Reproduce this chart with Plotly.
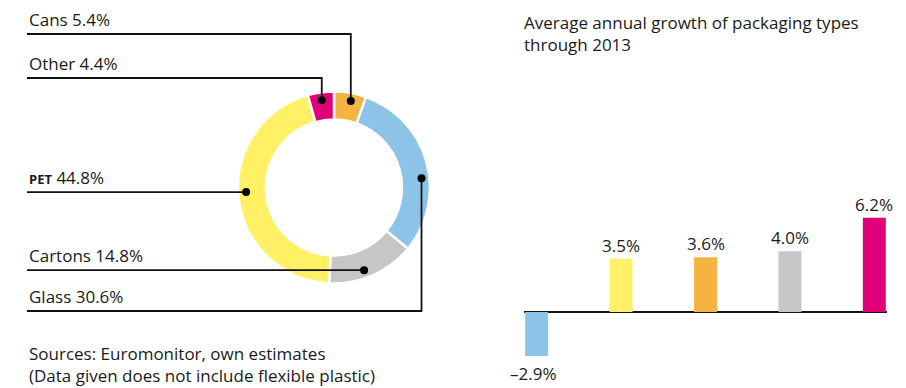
import math
import plotly.graph_objects as go

# ---------------- data ----------------
share_labels = ["Cans", "Glass", "Cartons", "PET", "Other"]
share_values = [5.4, 30.6, 14.8, 44.8, 4.4]
share_colors = ["#F5B342", "#8CC3E6", "#C6C6C6", "#FFF066", "#E2007A"]

growth_cats = ["Glass", "PET", "Cans", "Cartons", "Other"]
growth_values = [-2.9, 3.5, 3.6, 4.0, 6.2]
growth_colors = ["#8CC3E6", "#FFF066", "#F5B342", "#C6C6C6", "#E2007A"]

title_text = "Average annual growth of packaging types<br>through 2013"
source_text = "Sources: Euromonitor, own estimates<br>(Data given does not include flexible plastic)"

# ---------------- layout spec (pixels) ----------------
W, H = 906, 388
FONT = "Open Sans"
FS = 17
TXT = "#1a1a1a"
cx, cy, R, R_in = 334, 187.5, 96, 68
label_x = 27
# leader spec: label, anchor angle (deg clockwise from top), label line y, style
leaders = [
    ("Cans", 11, 34, "v"),
    ("Other", -8, 78, "v"),
    ("PET", 267, None, "h"),
    ("Cartons", 160, None, "h"),
    ("Glass", 84, 311, "v"),
]
dot_r = 88


def px(x):
    return x / W


def py(y):
    return 1 - y / H


fig = go.Figure()

fig.add_trace(go.Pie(
    labels=share_labels, values=share_values, sort=False, direction="clockwise",
    rotation=0, hole=R_in / R, textinfo="none", hoverinfo="label+value",
    marker=dict(colors=share_colors, line=dict(color="white", width=2.5)),
    domain=dict(x=[px(cx - R), px(cx + R)], y=[py(cy + R), py(cy - R)]),
    showlegend=False,
))

val_of = dict(zip(share_labels, share_values))
annotations = []
shapes = []
for name, ang, ly, style in leaders:
    a = math.radians(ang)
    dx = cx + dot_r * math.sin(a)
    dy = cy - dot_r * math.cos(a)
    if style == "v":
        pts = [(label_x, ly), (dx, ly), (dx, dy)]
        line_y = ly
    else:
        pts = [(label_x, dy), (dx, dy)]
        line_y = dy
    path = "M " + " L ".join(f"{px(x):.5f},{py(y):.5f}" for x, y in pts)
    shapes.append(dict(type="path", path=path, xref="paper", yref="paper", layer="above",
                       line=dict(color="#111", width=1.8)))
    rr = 4
    shapes.append(dict(type="circle", xref="paper", yref="paper", layer="above",
                       x0=px(dx - rr), x1=px(dx + rr), y0=py(dy + rr), y1=py(dy - rr),
                       fillcolor="#000", line=dict(width=0)))
    v = f"{val_of[name]:.1f}%"
    if name == "PET":
        txt = f"<span style='font-size:13px'><b>PET</b></span> {v}"
    else:
        txt = f"{name} {v}"
    annotations.append(dict(x=px(label_x), y=py(line_y - 1), xref="paper", yref="paper", text=txt,
                            showarrow=False, xanchor="left", yanchor="bottom",
                            font=dict(family=FONT, size=FS, color=TXT)))

annotations.append(dict(x=px(label_x), y=py(389), xref="paper", yref="paper", text=source_text,
                        showarrow=False, xanchor="left", yanchor="bottom", align="left",
                        font=dict(family=FONT, size=FS, color=TXT)))
annotations.append(dict(x=px(522), y=py(9), xref="paper", yref="paper", text=title_text,
                        showarrow=False, xanchor="left", yanchor="top", align="left",
                        font=dict(family=FONT, size=FS, color=TXT)))

# bar chart
fig.add_trace(go.Bar(x=growth_cats, y=growth_values, marker=dict(color=growth_colors, line=dict(width=0)),
                     width=0.272, showlegend=False, xaxis="x", yaxis="y", hoverinfo="x+y"))
px_per_unit = 15.2
zero_px = 312
ytop_px, ybot_px = 200, 370
fig.update_layout(
    xaxis=dict(domain=[px(524), px(887)], range=[-0.15, 4.15], visible=False, fixedrange=True, anchor="y"),
    yaxis=dict(domain=[py(ybot_px), py(ytop_px)],
               range=[-(ybot_px - zero_px) / px_per_unit, (zero_px - ytop_px) / px_per_unit],
               showgrid=False, showticklabels=False, ticks="", showline=False,
               zeroline=True, zerolinecolor="#111", zerolinewidth=1.8, fixedrange=True, anchor="x"),
)
for c, v in zip(growth_cats, growth_values):
    t = f"{v:.1f}%".replace("-", "\u2013")
    annotations.append(dict(x=c, y=v, xref="x", yref="y", text=t, showarrow=False,
                            xanchor="center", yanchor="bottom" if v >= 0 else "top",
                            yshift=0 if v >= 0 else -4, xshift=0 if v >= 0 else -4,
                            font=dict(family=FONT, size=FS, color=TXT)))

fig.update_layout(
    width=W, height=H, margin=dict(l=0, r=0, t=0, b=0),
    paper_bgcolor="white", plot_bgcolor="rgba(0,0,0,0)",
    annotations=annotations, shapes=shapes, showlegend=False,
)
fig.write_html("out.html", config={"displayModeBar": False})
